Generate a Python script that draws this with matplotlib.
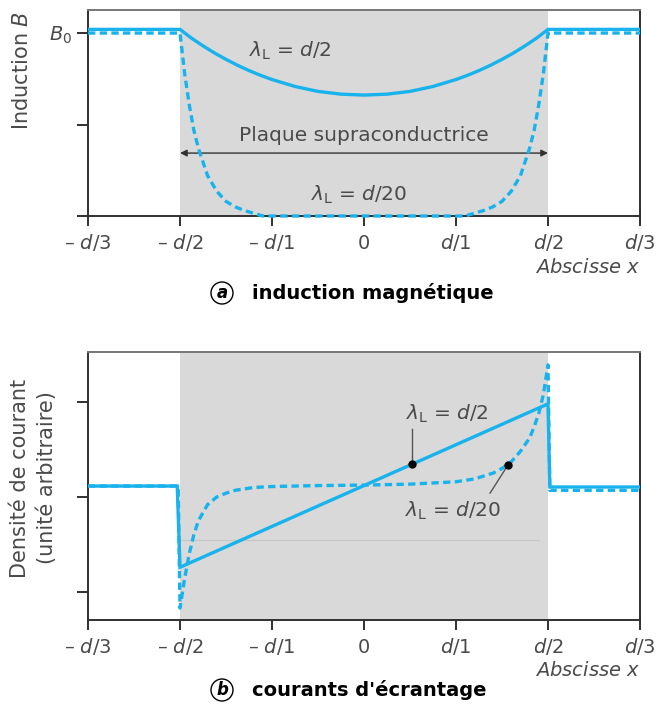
import matplotlib
matplotlib.use("Agg")
import matplotlib.pyplot as plt

# ---------------- data ----------------
tick_pos = [-3, -2, -1, 0, 1, 2, 3]
tick_labels = ["– $d$/3", "– $d$/2", "– $d$/1", "0", "$d$/1", "$d$/2", "$d$/3"]
plate = [-2, 2]

# (a) induction magnétique
xa_solid = [-3, -2, -1.875, -1.75, -1.625, -1.5, -1.375, -1.25, -1.125, -1, -0.75, -0.5, -0.25, 0,
            0.25, 0.5, 0.75, 1, 1.125, 1.25, 1.375, 1.5, 1.625, 1.75, 1.875, 2, 3]
Ba_solid = [1.02, 1.02, 0.972, 0.93, 0.891, 0.856, 0.824, 0.795, 0.769, 0.746, 0.708, 0.681, 0.666, 0.661,
            0.666, 0.681, 0.708, 0.746, 0.769, 0.795, 0.824, 0.856, 0.891, 0.93, 0.972, 1.02, 1.02]
xa_dash = [-3, -2, -1.95, -1.9, -1.85, -1.8, -1.7, -1.6, -1.5, -1.4, -1.3, -1.2, -1.1,
           1.1, 1.2, 1.3, 1.4, 1.5, 1.6, 1.7, 1.8, 1.85, 1.9, 1.95, 2, 3]
Ba_dash = [1.0, 1.0, 0.78, 0.61, 0.47, 0.37, 0.22, 0.135, 0.08, 0.05, 0.03, 0.015, 0.0,
           0.0, 0.015, 0.03, 0.05, 0.08, 0.135, 0.22, 0.37, 0.47, 0.61, 0.78, 1.0, 1.0]

# (b) courants d'écrantage
xb_solid = [-3, -2.03, -2.0, 2.0, 2.02, 3]
Jb_solid = [0.115, 0.115, -0.74, 0.98, 0.105, 0.105]
xb_dash = [-3, -2.02, -2.0, -1.95, -1.9, -1.85, -1.8, -1.7, -1.6, -1.5, -1.4, -1.2, -1.0,
           -0.5, 0, 0.5, 1.0, 1.2, 1.4, 1.5, 1.6, 1.7, 1.8, 1.85, 1.9, 1.95, 2.0, 2.02, 3]
Jb_dash = [0.115, 0.115, -1.17, -0.86, -0.6, -0.4, -0.25, -0.08, 0.0, 0.04, 0.07, 0.1, 0.11,
           0.12, 0.125, 0.135, 0.16, 0.19, 0.25, 0.3, 0.37, 0.48, 0.62, 0.74, 0.88, 1.08, 1.39, 0.07, 0.07]
mark_solid = (0.52, 0.35)
mark_dash = (1.565, 0.337)

# ---------------- style ----------------
plt.rcParams['font.family'] = ['DejaVu Sans']
plt.rcParams['mathtext.fontset'] = 'dejavusans'
BLUE = '#18b2ec'
GREY_FILL = '#d9d9d9'
TXT = '#4a4a4a'
SPINE = '#303030'
LW = 2.4
DASH = (2.2, 1.3)

fig = plt.figure(figsize=(6.57, 7.13), dpi=100)
axA = fig.add_axes([88/657, 1-216/713, 552/657, 206/713])
axB = fig.add_axes([88/657, 1-620/713, 552/657, 268/713])


def style_axes(ax, abs_y):
    ax.set_xlim(-3, 3)
    ax.set_xticks(tick_pos)
    ax.set_xticklabels(tick_labels, fontsize=14, color=TXT)
    for lab in ax.get_xticklabels():
        lab.set_verticalalignment('baseline')
    for s in ax.spines.values():
        s.set_color(SPINE)
        s.set_linewidth(1.4)
    ax.spines['top'].set_color('#777777')
    ax.tick_params(axis='x', length=7, width=1.4, color=SPINE, pad=16.5)
    ax.tick_params(axis='y', length=8, width=1.4, color=SPINE)
    ax.axvspan(plate[0], plate[1], color=GREY_FILL, zorder=0, lw=0)
    fig.text(640/657, 1-abs_y/713, "Abscisse $x$", ha='right', va='center',
             fontsize=14, color=TXT, fontstyle='italic')


# ---- panel (a)
style_axes(axA, 267)
axA.set_ylim(0, 1.126)
axA.set_yticks([0, 0.5, 1.0])
axA.set_yticklabels(["", "", "$B_0$"], fontsize=14, color=TXT)
axA.plot(xa_dash, Ba_dash, color=BLUE, lw=LW, dashes=DASH, zorder=3, clip_on=False)
axA.plot(xa_solid, Ba_solid, color=BLUE, lw=LW, zorder=4, solid_joinstyle='miter')
axA.annotate("", xy=(plate[0], 0.344), xytext=(plate[1], 0.344),
             arrowprops=dict(arrowstyle='<|-|>', color='#333333', lw=1.0,
                             mutation_scale=10, shrinkA=0, shrinkB=0), zorder=2)
axA.text(0, 0.39, "Plaque supraconductrice", ha='center', va='bottom',
         fontsize=14.5, color=TXT)
axA.text(-0.8, 0.905, r"$\lambda_\mathrm{L}$ = $d$/2", ha='center', va='center',
         fontsize=14.5, color=TXT)
axA.text(-0.05, 0.115, r"$\lambda_\mathrm{L}$ = $d$/20", ha='center', va='center',
         fontsize=14.5, color=TXT)
fig.text(22/657, 1-70/713, "Induction $B$", rotation=90, ha='center', va='center',
         fontsize=15, color=TXT)

# ---- panel (b)
style_axes(axB, 670)
axB.set_ylim(-1.295, 1.526)
axB.set_yticks([-1, 0, 1])
axB.set_yticklabels(["", "", ""])
axB.plot([-2, 1.9], [-0.45, -0.45], color='#c6c6c6', lw=0.8, zorder=1)
axB.plot(xb_dash, Jb_dash, color=BLUE, lw=LW, dashes=DASH, zorder=3)
axB.plot(xb_solid, Jb_solid, color=BLUE, lw=LW, zorder=4, solid_joinstyle='miter')
axB.plot(*mark_solid, 'o', color='black', ms=5, zorder=6)
axB.plot(*mark_dash, 'o', color='black', ms=5, zorder=6)
axB.plot([mark_solid[0], mark_solid[0]], [mark_solid[1], 0.72], color='#555555', lw=1.0, zorder=5)
axB.plot([mark_dash[0], 1.37], [mark_dash[1], 0.04], color='#555555', lw=1.0, zorder=5)
axB.text(0.9, 0.88, r"$\lambda_\mathrm{L}$ = $d$/2", ha='center', va='center',
         fontsize=14.5, color=TXT)
axB.text(0.97, -0.15, r"$\lambda_\mathrm{L}$ = $d$/20", ha='center', va='center',
         fontsize=14.5, color=TXT)
fig.text(20/657, 1-478/713, "Densité de courant", rotation=90, ha='center', va='center',
         fontsize=15, color=TXT)
fig.text(47/657, 1-478/713, "(unité arbitraire)", rotation=90, ha='center', va='center',
         fontsize=15, color=TXT)

# ---- captions
for ycap, letter, cap in [(293, "a", "induction magnétique"),
                          (690, "b", "courants d'écrantage")]:
    fig.text(222/657, 1-ycap/713, letter, ha='center', va='center', fontsize=12,
             fontweight='bold', fontstyle='italic', color='black',
             bbox=dict(boxstyle='circle,pad=0.12', fc='none', ec='black', lw=1.0))
    fig.text(252/657, 1-ycap/713, cap, ha='left', va='center', fontsize=14,
             fontweight='bold', color='black')

fig.savefig("out.png", dpi=100)
